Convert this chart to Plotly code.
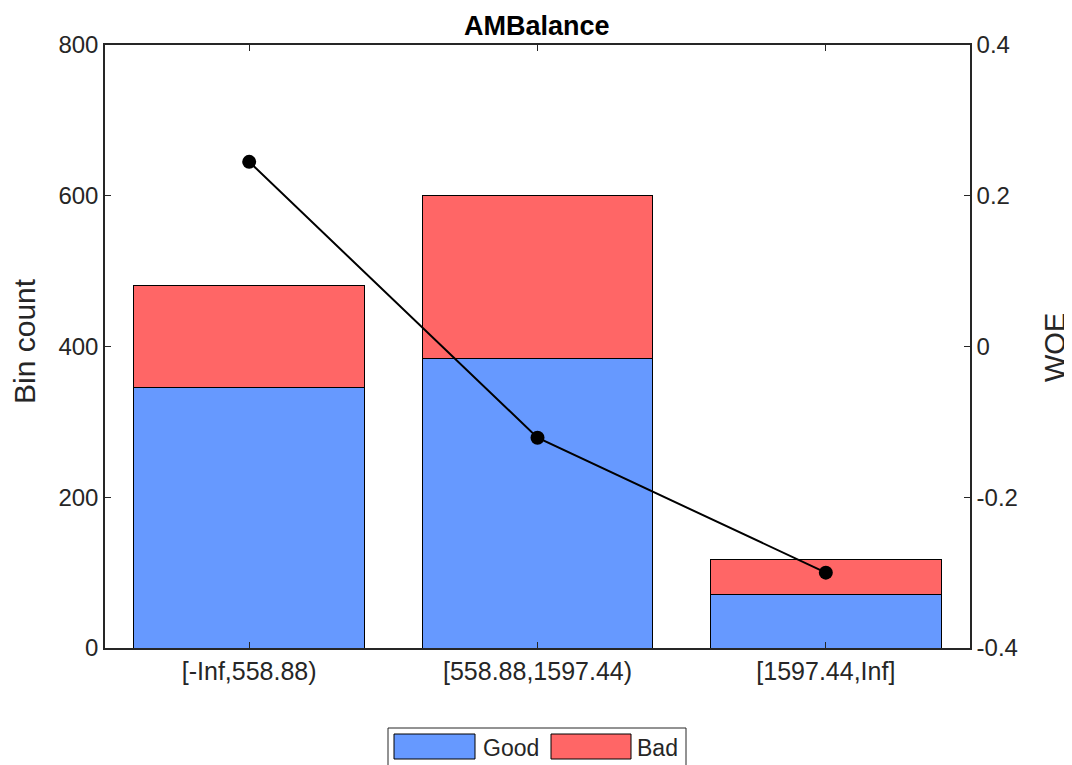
import plotly.graph_objects as go

categories = ["[-Inf,558.88)", "[558.88,1597.44)", "[1597.44,Inf]"]
good = [345, 384, 71]
bad = [136, 216, 47]
woe = [0.245, -0.121, -0.300]

OFF = 8  # default page body margin
W, H = 1072 - OFF, 765 - OFF
# plot area in page pixels: x 105..970, y 45..648
L, T = 105 - OFF, 45 - OFF
R = W - (970 - OFF)
B = H - (648 - OFF)
pw, ph = W - L - R, H - T - B
axis_col = "#262626"
font_fam = "Arial, Liberation Sans, Helvetica, sans-serif"

def px(x):
    return (x - OFF - L) / pw

def py(y):
    return (H - B - (y - OFF)) / ph

fig = go.Figure()
fig.add_trace(go.Bar(x=categories, y=good, name="Good", marker=dict(color="#6699FF", line=dict(color="black", width=1)), width=0.8))
fig.add_trace(go.Bar(x=categories, y=bad, name="Bad", marker=dict(color="#FF6666", line=dict(color="black", width=1)), width=0.8))
fig.add_trace(go.Scatter(x=categories, y=woe, yaxis="y2", mode="lines+markers", line=dict(color="black", width=2), marker=dict(color="black", size=14), showlegend=False))

shapes = [
    dict(type="rect", xref="paper", yref="paper", x0=px(388), x1=px(686), y0=py(775), y1=py(728), line=dict(color=axis_col, width=1), fillcolor="white"),
    dict(type="rect", xref="paper", yref="paper", x0=px(394), x1=px(475), y0=py(759), y1=py(734), line=dict(color="black", width=1), fillcolor="#6699FF"),
    dict(type="rect", xref="paper", yref="paper", x0=px(551), x1=px(631), y0=py(759), y1=py(734), line=dict(color="black", width=1), fillcolor="#FF6666"),
]
annotations = [
    dict(text="Good", xref="paper", yref="paper", x=px(481), y=py(748), xanchor="left", yanchor="middle", showarrow=False, font=dict(size=23, color=axis_col, family=font_fam)),
    dict(text="Bad", xref="paper", yref="paper", x=px(635), y=py(748), xanchor="left", yanchor="middle", showarrow=False, font=dict(size=23, color=axis_col, family=font_fam)),
    dict(text="Bin count", xref="paper", yref="paper", x=px(24), y=py(341), xanchor="center", yanchor="middle", textangle=-90, showarrow=False, font=dict(size=30, color=axis_col, family=font_fam)),
    dict(text="WOE", xref="paper", yref="paper", x=px(1055), y=py(348), xanchor="center", yanchor="middle", textangle=-90, showarrow=False, font=dict(size=29, color=axis_col, family=font_fam)),
    dict(text="<b>AMBalance</b>", xref="paper", yref="paper", x=px(537), y=py(OFF + 1), xanchor="center", yanchor="top", showarrow=False, font=dict(size=27, color="black", family=font_fam)),
]

fig.update_layout(
    width=W, height=H,
    margin=dict(l=L, r=R, t=T, b=B),
    barmode="stack",
    showlegend=False,
    plot_bgcolor="white", paper_bgcolor="white",
    font=dict(family=font_fam, size=24, color=axis_col),
    xaxis=dict(range=[-0.5, 2.5], showline=True, linecolor=axis_col, linewidth=1.5, mirror="ticks", ticks="inside", ticklen=6, tickcolor=axis_col, showgrid=False, tickfont=dict(size=25), automargin=False),
    yaxis=dict(range=[0, 800], dtick=200, showline=True, linecolor=axis_col, linewidth=1.5, ticks="inside", ticklen=6, tickcolor=axis_col, showgrid=False, zeroline=False,
               tickfont=dict(size=24), automargin=False),
    yaxis2=dict(range=[-0.4, 0.4], tickvals=[-0.4, -0.2, 0, 0.2, 0.4], ticktext=["-0.4", "-0.2", "0", "0.2", "0.4"], overlaying="y", side="right",
                showline=True, linecolor=axis_col, linewidth=1.5, ticks="inside", ticklen=6, tickcolor=axis_col, showgrid=False, zeroline=False,
                tickfont=dict(size=24), automargin=False),
    shapes=shapes,
    annotations=annotations,
)

fig.write_html("out.html")
